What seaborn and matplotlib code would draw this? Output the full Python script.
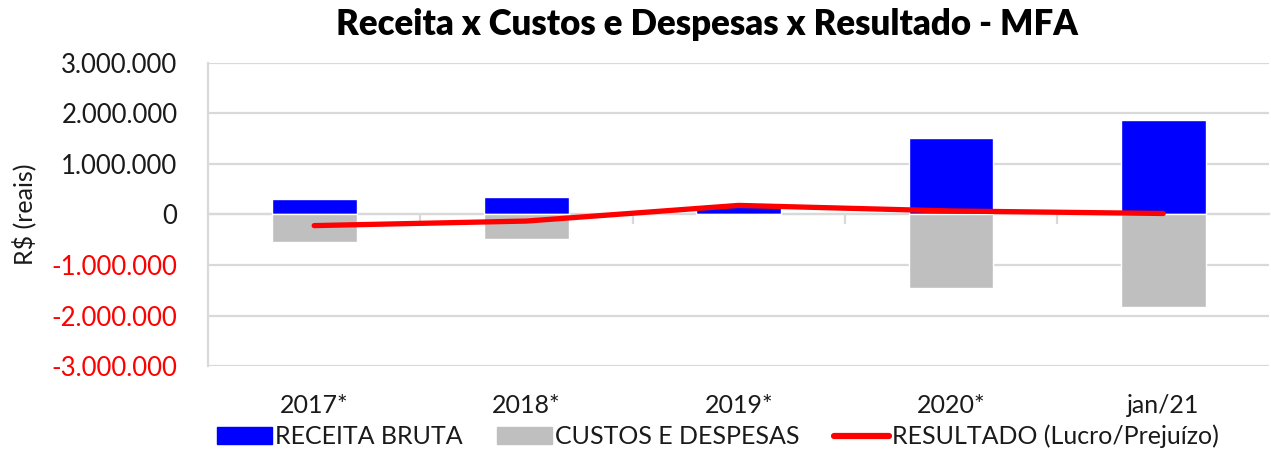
import matplotlib
matplotlib.use('Agg')
import matplotlib.pyplot as plt
from matplotlib.patches import Patch
from matplotlib.lines import Line2D
from matplotlib.ticker import FuncFormatter, FixedLocator
import numpy as np
import seaborn as sns

# Dados (R$)
categorias = ['2017*', '2018*', '2019*', '2020*', 'jan/21']
receita_bruta = [310000, 340000, 190000, 1520000, 1870000]
custos_despesas = [-535000, -495000, -10000, -1460000, -1840000]
resultado = [-220000, -130000, 180000, 70000, 20000]
y_ticks = [-3000000, -2000000, -1000000, 0, 1000000, 2000000, 3000000]

AZUL = '#0000FF'
CINZA = '#BFBFBF'
VERMELHO = '#FF0000'
GRADE = '#D9D9D9'

sns.set_theme(style='white')
plt.rcParams['font.family'] = ['Lato', 'DejaVu Sans']

fig = plt.figure(figsize=(12.71, 4.53), dpi=100)
ax = fig.add_axes([0.1637, 0.192, 0.835, 0.669])

# Barras de receita (positivas) e custos (negativas) na mesma posicao
sns.barplot(x=categorias, y=receita_bruta, color=AZUL, saturation=1,
            width=0.4, errorbar=None, ax=ax, zorder=2)
sns.barplot(x=categorias, y=custos_despesas, color=CINZA, saturation=1,
            width=0.4, errorbar=None, ax=ax, zorder=2)

# Linha do resultado
sns.lineplot(x=np.arange(len(categorias)), y=resultado, color=VERMELHO,
             linewidth=3.8, ax=ax, zorder=4, solid_capstyle='round')

ax.set_xlim(-0.5, len(categorias) - 0.5)
ax.set_ylim(-3000000, 3000000)
ax.yaxis.set_major_locator(FixedLocator(y_ticks))
ax.yaxis.set_major_formatter(FuncFormatter(lambda v, p: f'{int(v):,}'.replace(',', '.')))
ax.grid(axis='y', color=GRADE, linewidth=1.6, zorder=0)
ax.set_axisbelow(True)

for s in ['top', 'right', 'bottom']:
    ax.spines[s].set_visible(False)
ax.spines['left'].set_color(GRADE)
ax.spines['left'].set_linewidth(1.6)

ax.tick_params(axis='y', length=6, width=1.6, color=GRADE, pad=16, labelsize=18.5)
ax.tick_params(axis='x', length=0, pad=20, labelsize=18)
ax.set_xticks(range(len(categorias)))
ax.set_xticklabels(categorias)
for lab in ax.get_yticklabels():
    if lab.get_text().startswith('-'):
        lab.set_color(VERMELHO)
    else:
        lab.set_color('#1a1a1a')
for lab in ax.get_xticklabels():
    lab.set_color('#1a1a1a')

ax.set_xlabel('')
ax.set_ylabel('R$ (reais)', fontsize=18, color='#1a1a1a', labelpad=11)

# Eixo horizontal no zero
eixo0 = ax.secondary_xaxis(0.5)
for s in eixo0.spines.values():
    s.set_color(GRADE)
    s.set_linewidth(1.6)
eixo0.set_xticks([0.5, 1.5, 2.5, 3.5])
eixo0.set_xticklabels([])
eixo0.xaxis.set_ticks_position('bottom')
eixo0.tick_params(length=7, width=1.6, color=GRADE, direction='out')

fig.suptitle('Receita x Custos e Despesas x Resultado - MFA', x=0.556, y=0.945,
             va='center', fontsize=25, fontweight='heavy', color='black')

handles = [Patch(facecolor=AZUL, edgecolor=AZUL),
           Patch(facecolor=CINZA, edgecolor=CINZA),
           Line2D([0], [0], color=VERMELHO, linewidth=4.5)]
labels = ['RECEITA BRUTA', 'CUSTOS E DESPESAS', 'RESULTADO (Lucro/Prejuízo)']
fig.legend(handles, labels, loc='center', bbox_to_anchor=(0.565, 0.036), ncol=3,
           frameon=False, fontsize=18, handlelength=2.2, handleheight=0.7,
           handletextpad=0.1, columnspacing=1.4, labelcolor='#1a1a1a')

fig.savefig('out.png', dpi=100)
